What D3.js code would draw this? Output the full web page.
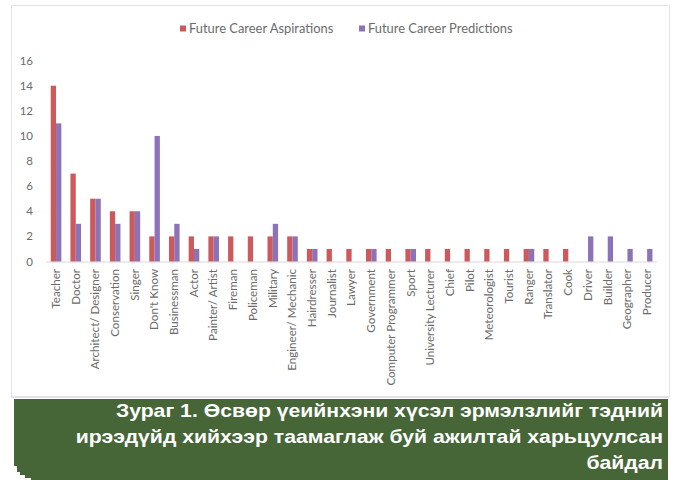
<!DOCTYPE html>
<html><head><meta charset="utf-8">
<script src="https://cdn.jsdelivr.net/npm/d3@7"></script>
<style>
html,body{margin:0;padding:0;background:#fff;}
svg{display:block;}
</style>
</head><body>
<svg id="chart" width="675" height="480"></svg>
<script>
const categories = ["Teacher","Doctor","Architect/ Designer","Conservation","Singer","Don't Know","Businessman","Actor","Painter/ Artist","Fireman","Policeman","Military","Engineer/ Mechanic","Hairdresser","Journalist","Lawyer","Government","Computer Programmer","Sport","University Lecturer","Chief","Pilot","Meteorologist","Tourist","Ranger","Translator","Cook","Driver","Builder","Geographer","Producer"];
const aspirations = [14,7,5,4,4,2,2,2,2,2,2,2,2,1,1,1,1,1,1,1,1,1,1,1,1,1,1,0,0,0,0];
const predictions = [11,3,5,3,4,10,3,1,2,0,0,3,2,1,0,0,1,0,1,0,0,0,0,0,1,0,0,2,2,1,1];
const seriesNames = ["Future Career Aspirations","Future Career Predictions"];
const seriesColors = ["#cc5a5d","#8c72b6"];
const yTicks = [0,2,4,6,8,10,12,14,16];
const captionLines = ["Зураг 1. Өсвөр үеийнхэни хүсэл эрмэлзлийг тэдний","ирээдүйд хийхээр таамаглаж буй ажилтай харьцуулсан","байдал"];

const svg = d3.select("#chart");
const font = "Lato, 'Open Sans', sans-serif";

// frame
svg.append("rect").attr("x",11.5).attr("y",5.5).attr("width",658).attr("height",391)
  .attr("fill","#fff").attr("stroke","#e4e4e4");
svg.append("line").attr("x1",11).attr("x2",670).attr("y1",397).attr("y2",397)
  .attr("stroke","#e6deef").attr("stroke-width",2);

const x = d3.scaleBand().domain(categories).range([46.2,657]).paddingInner(0).paddingOuter(0);
const y = d3.scaleLinear().domain([0,16]).range([261.5,60.6]);
const barW = 5.3;

// y axis labels
svg.append("g").selectAll("text").data(yTicks).join("text")
  .attr("x",33).attr("y",d=>y(d)).attr("dy","0.35em")
  .attr("text-anchor","end").attr("font-family",font).attr("font-size",11.5)
  .attr("fill","#6b6b6b").text(d=>d);

// baseline
svg.append("line").attr("x1",46).attr("x2",657).attr("y1",y(0)+0.5).attr("y2",y(0)+0.5)
  .attr("stroke","#d9d9d9");

// bars
const series = [aspirations, predictions];
series.forEach((vals,si)=>{
  svg.append("g").selectAll("rect").data(categories).join("rect")
    .attr("x",(c)=>x(c)+x.bandwidth()/2 - barW + si*barW)
    .attr("width",barW)
    .attr("y",(c,i)=>y(vals[i]))
    .attr("height",(c,i)=>y(0)-y(vals[i]))
    .attr("fill",seriesColors[si]);
});

// x labels
svg.append("g").selectAll("text").data(categories).join("text")
  .attr("transform",c=>`translate(${x(c)+x.bandwidth()/2+3.8},${y(0)+7.5}) rotate(-90)`)
  .attr("text-anchor","end").attr("font-family",font).attr("font-size",11.6)
  .attr("fill","#6b6b6b").text(c=>c);

// legend
const legX = [180,359];
seriesNames.forEach((n,i)=>{
  svg.append("rect").attr("x",legX[i]).attr("y",25.5).attr("width",6).attr("height",6).attr("fill",seriesColors[i]);
  svg.append("text").attr("x",legX[i]+9).attr("y",28.5).attr("dy","0.35em")
    .attr("font-family",font).attr("font-size",12.9).attr("fill","#6b6b6b").text(n);
});

// caption box with stacked-paper steps
const green = "#466638";
[[14,399,654,67],[17,400,651,72],[20,400,648,75],[25,400,643,78],[31,400,637,80]].forEach(r=>{
  svg.append("rect").attr("x",r[0]).attr("y",r[1]).attr("width",r[2]).attr("height",r[3]).attr("fill",green);
});
const capY = [417,443,468.5];
captionLines.forEach((t,i)=>{
  svg.append("text").attr("transform",`translate(663,${capY[i]}) scale(1.178,1)`)
    .attr("text-anchor","end")
    .attr("font-family","'Liberation Sans', Arial, sans-serif").attr("font-weight","bold")
    .attr("font-size",18).attr("fill","#fff").text(t);
});
</script>
</body></html>
